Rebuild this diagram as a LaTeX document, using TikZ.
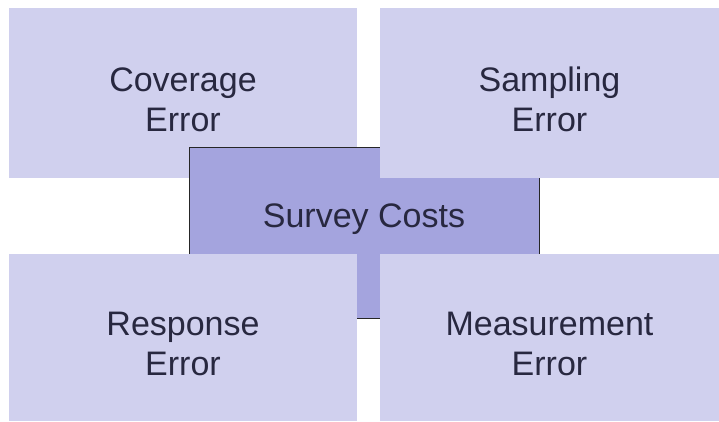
\documentclass[tikz,border=0pt]{standalone}
\usepackage{fontspec}
\setmainfont{Liberation Sans}
\definecolor{boxlight}{RGB}{208,208,238}
\definecolor{boxdark}{RGB}{164,164,222}
\definecolor{txt}{RGB}{40,40,64}
\newcommand{\lowerstrut}{\rule{0pt}{37pt}}
\begin{document}
\begin{tikzpicture}[x=1pt,y=-1pt,
  errbox/.style={rectangle, fill=boxlight, draw=none, inner sep=0pt, outer sep=0pt,
    text=txt, align=center, font=\fontsize{34}{40}\selectfont},
  costbox/.style={rectangle, fill=boxdark, draw=black!85, line width=0.8pt, inner sep=0pt, outer sep=0pt},
  costtext/.style={text=txt, font=\fontsize{34}{40}\selectfont, inner sep=0pt}]
\useasboundingbox[fill=white] (0,0) rectangle (719,421);
\node[errbox, minimum width=348pt, minimum height=170pt] (coverage) at (183,93) {\lowerstrut Coverage\\Error};
\node[costbox, minimum width=350pt, minimum height=171pt] (central) at (364,232.5) {};
\node[costtext] (costs) at (364,219) {Survey Costs};
\node[errbox, minimum width=339pt, minimum height=170pt] (sampling) at (549.5,93) {\lowerstrut Sampling\\Error};
\node[errbox, minimum width=348pt, minimum height=167pt] (response) at (183,337.5) {\lowerstrut Response\\Error};
\node[errbox, minimum width=339pt, minimum height=167pt] (measurement) at (549.5,337.5) {\lowerstrut Measurement\\Error};
\end{tikzpicture}
\end{document}
